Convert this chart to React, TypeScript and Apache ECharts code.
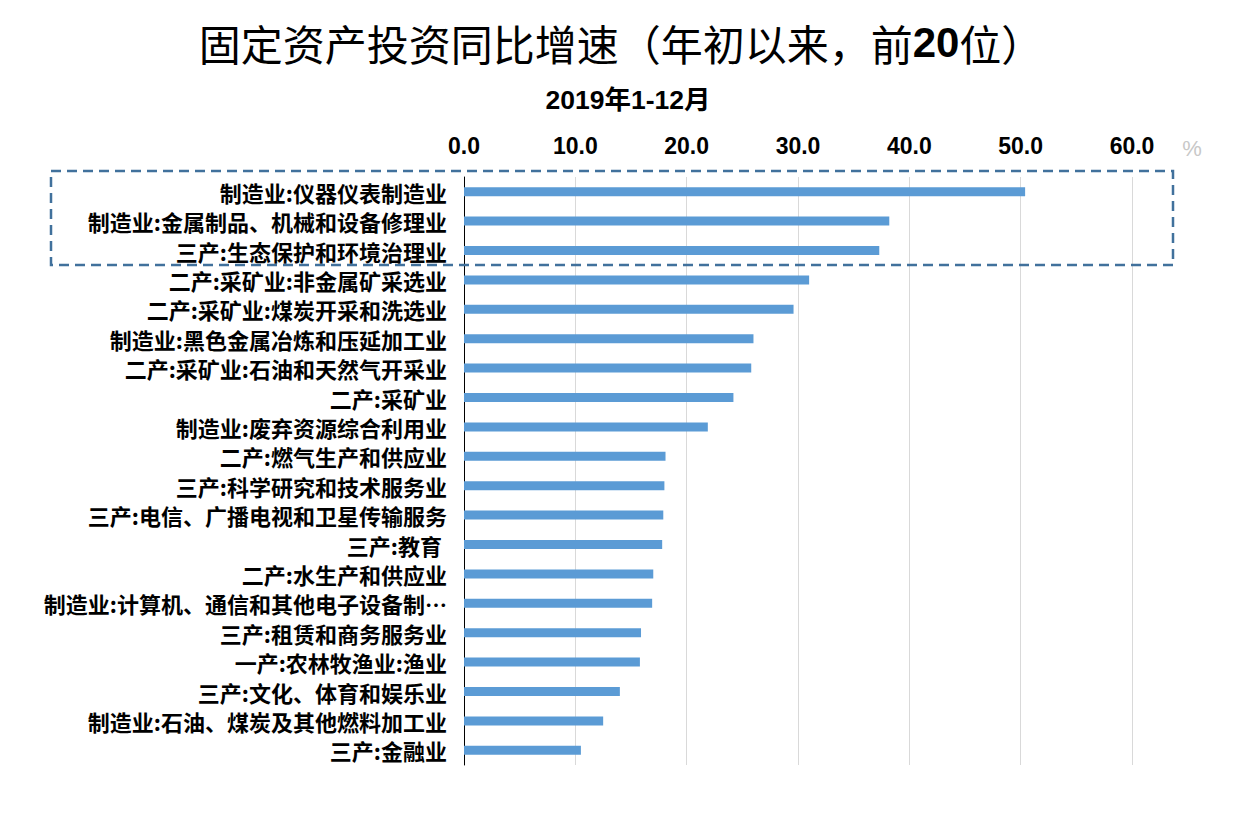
import React, { useEffect, useRef } from "react";
import * as echarts from "echarts";

const categories = [
  "制造业:仪器仪表制造业",
  "制造业:金属制品、机械和设备修理业",
  "三产:生态保护和环境治理业",
  "二产:采矿业:非金属矿采选业",
  "二产:采矿业:煤炭开采和洗选业",
  "制造业:黑色金属冶炼和压延加工业",
  "二产:采矿业:石油和天然气开采业",
  "二产:采矿业",
  "制造业:废弃资源综合利用业",
  "二产:燃气生产和供应业",
  "三产:科学研究和技术服务业",
  "三产:电信、广播电视和卫星传输服务",
  "三产:教育 ",
  "二产:水生产和供应业",
  "制造业:计算机、通信和其他电子设备制造业",
  "三产:租赁和商务服务业",
  "一产:农林牧渔业:渔业",
  "三产:文化、体育和娱乐业",
  "制造业:石油、煤炭及其他燃料加工业",
  "三产:金融业",
];

const values = [
  50.4, 38.2, 37.3, 31.0, 29.6, 26.0, 25.8, 24.2, 21.9, 18.1,
  18.0, 17.9, 17.8, 17.0, 16.9, 15.9, 15.8, 14.0, 12.5, 10.5,
];

const xTicks = { min: 0, max: 60, interval: 10 };

const titleMain = "固定资产投资同比增速（年初以来，前";
const titleNum = "20";
const titleEnd = "位）";
const subtitle = "2019年1-12月";
const unit = "%";

export default function App() {
  const ref = useRef<HTMLDivElement>(null);

  useEffect(() => {
    if (!ref.current) return;
    const chart = echarts.init(ref.current, null, { renderer: "svg" });
    const cjk = "'Noto Sans CJK SC', sans-serif";
    chart.setOption({
      animation: false,
      backgroundColor: "#ffffff",
      title: {
        text: `{a|${titleMain}}{b|${titleNum}}{a|${titleEnd}}`,
        left: "center",
        top: 16,
        textStyle: {
          rich: {
            a: { fontFamily: cjk, fontSize: 42, fontWeight: "normal", color: "#000" },
            b: { fontFamily: "'Liberation Sans', Arial, sans-serif", fontSize: 42, fontWeight: "bold", color: "#000" },
          },
        },
      },
      graphic: [
        {
          type: "text",
          x: 628,
          y: 100,
          style: {
            text: subtitle,
            fontFamily: "'Liberation Sans', " + cjk,
            fontSize: 26.5,
            fontWeight: "bold",
            fill: "#000",
            textAlign: "center",
            textVerticalAlign: "middle",
          },
        },
        {
          type: "text",
          x: 1192,
          y: 148,
          style: {
            text: unit,
            fontFamily: "'Liberation Sans', sans-serif",
            fontSize: 22,
            fill: "#c8c8c8",
            textAlign: "center",
            textVerticalAlign: "middle",
          },
        },
        {
          type: "rect",
          z: 10,
          shape: { x: 51, y: 171, width: 1122, height: 94 },
          style: {
            fill: "none",
            stroke: "#41719c",
            lineWidth: 2.5,
            lineDash: [10, 6],
          },
        },
      ],
      grid: { left: 464, right: 110, top: 177, bottom: 64, containLabel: false },
      xAxis: {
        type: "value",
        position: "top",
        min: xTicks.min,
        max: xTicks.max,
        interval: xTicks.interval,
        axisLine: { show: false },
        axisTick: { show: false },
        splitLine: { show: true, lineStyle: { color: "#d9d9d9", width: 1 } },
        axisLabel: {
          margin: 20,
          fontFamily: "'Liberation Sans', Arial, sans-serif",
          fontSize: 23,
          fontWeight: "bold",
          color: "#000",
          formatter: (v: number) => v.toFixed(1),
        },
      },
      yAxis: {
        type: "category",
        inverse: true,
        data: categories,
        axisLine: { show: true, lineStyle: { color: "#000", width: 1 } },
        axisTick: { show: false },
        splitLine: { show: false },
        axisLabel: {
          interval: 0,
          margin: 17,
          fontFamily: cjk,
          fontSize: 22,
          fontWeight: "bold",
          color: "#000",
          width: 415,
          overflow: "truncate",
          ellipsis: "…",
        },
      },
      series: [
        {
          type: "bar",
          data: values,
          barWidth: 9,
          itemStyle: { color: "#5b9bd5" },
        },
      ],
    });
    return () => chart.dispose();
  }, []);

  return (
    <div
      ref={ref}
      style={{ position: "fixed", left: 0, top: 0, width: 1242, height: 829, background: "#fff" }}
    />
  );
}
